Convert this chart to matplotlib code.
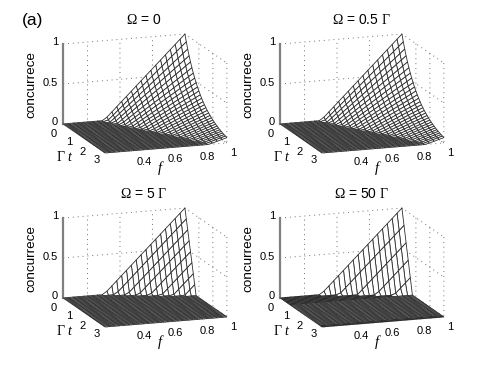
import numpy as np
import matplotlib
matplotlib.use('Agg')
import matplotlib.pyplot as plt
from mpl_toolkits.mplot3d import Axes3D
from mpl_toolkits.mplot3d.art3d import Poly3DCollection

plt.rcParams['font.family'] = ['Liberation Sans']
plt.rcParams['mathtext.fontset'] = 'custom'
plt.rcParams['mathtext.rm'] = 'Liberation Serif'
plt.rcParams['mathtext.it'] = 'Liberation Serif:italic'
plt.rcParams['grid.color'] = '#707070'
plt.rcParams['grid.linestyle'] = (0, (1, 4))
plt.rcParams['grid.linewidth'] = 0.7

W, H = 491, 369

f_vals = [0.25, 0.28, 0.31, 0.34, 0.37, 0.40, 0.43, 0.46, 0.49, 0.52, 0.55, 0.58, 0.61,
          0.64, 0.67, 0.70, 0.73, 0.76, 0.79, 0.82, 0.85, 0.88, 0.91, 0.94, 0.97, 1.00]
t_fine = [0.0, 0.1, 0.2, 0.3, 0.4, 0.5, 0.6, 0.7, 0.8, 0.9, 1.0, 1.1, 1.2, 1.3, 1.4, 1.5,
          1.6, 1.7, 1.8, 1.9, 2.0, 2.1, 2.2, 2.3, 2.4, 2.5, 2.6, 2.7, 2.8, 2.9, 3.0]
# the last panel shows wider t spacing on the raised part
t_coarse = [0.0, 0.15, 0.3, 0.45, 0.6, 0.75, 0.85, 0.95, 1.05, 1.15, 1.25, 1.35, 1.45, 1.55,
            1.65, 1.75, 1.85, 1.95, 2.05, 2.15, 2.25, 2.35, 2.45, 2.55, 2.65, 2.75, 2.85, 3.0]

# concurrence (f = 0.52 ... 1), t from 0 until it reaches zero
slow_lines = [
    [0.04, 0.017],
    [0.10, 0.073, 0.048, 0.024, 0.004],
    [0.16, 0.129, 0.10, 0.074, 0.05, 0.028, 0.008],
    [0.22, 0.185, 0.153, 0.123, 0.096, 0.072, 0.049, 0.029, 0.01],
    [0.28, 0.241, 0.205, 0.172, 0.143, 0.115, 0.09, 0.067, 0.046, 0.027, 0.01],
    [0.34, 0.297, 0.258, 0.221, 0.189, 0.159, 0.131, 0.106, 0.083, 0.062, 0.043, 0.025, 0.009],
    [0.40, 0.353, 0.31, 0.271, 0.235, 0.203, 0.172, 0.145, 0.12, 0.097, 0.076, 0.056, 0.039,
     0.022, 0.008],
    [0.46, 0.409, 0.363, 0.32, 0.281, 0.246, 0.213, 0.184, 0.157, 0.131, 0.109, 0.088, 0.069,
     0.051, 0.036, 0.021, 0.008],
    [0.52, 0.465, 0.415, 0.369, 0.328, 0.29, 0.254, 0.223, 0.193, 0.166, 0.142, 0.12, 0.099,
     0.08, 0.063, 0.047, 0.033, 0.02, 0.008],
    [0.58, 0.521, 0.468, 0.418, 0.374, 0.333, 0.295, 0.261, 0.23, 0.201, 0.175, 0.151, 0.129,
     0.109, 0.091, 0.074, 0.059, 0.045, 0.032, 0.02, 0.009],
    [0.64, 0.578, 0.52, 0.468, 0.42, 0.377, 0.337, 0.30, 0.267, 0.236, 0.208, 0.183, 0.159,
     0.137, 0.118, 0.10, 0.084, 0.069, 0.055, 0.043, 0.031, 0.021, 0.012, 0.003],
    [0.70, 0.633, 0.573, 0.516, 0.466, 0.42, 0.377, 0.339, 0.304, 0.271, 0.242, 0.215, 0.189,
     0.166, 0.146, 0.126, 0.11, 0.094, 0.079, 0.066, 0.054, 0.043, 0.032, 0.023, 0.015, 0.007],
    [0.76, 0.69, 0.625, 0.566, 0.513, 0.464, 0.419, 0.378, 0.34, 0.306, 0.275, 0.246, 0.22,
     0.195, 0.174, 0.153, 0.135, 0.119, 0.103, 0.089, 0.076, 0.064, 0.054, 0.044, 0.035, 0.027,
     0.019, 0.013, 0.006, 0.001],
    [0.82, 0.746, 0.678, 0.615, 0.559, 0.507, 0.46, 0.417, 0.377, 0.34, 0.308, 0.277, 0.25,
     0.224, 0.201, 0.18, 0.161, 0.143, 0.127, 0.112, 0.098, 0.086, 0.075, 0.064, 0.055, 0.046,
     0.038, 0.031, 0.024, 0.019, 0.013],
    [0.88, 0.802, 0.73, 0.665, 0.605, 0.551, 0.501, 0.455, 0.414, 0.375, 0.341, 0.309, 0.28,
     0.252, 0.229, 0.206, 0.186, 0.168, 0.15, 0.135, 0.12, 0.108, 0.096, 0.085, 0.075, 0.066,
     0.058, 0.05, 0.043, 0.038, 0.031],
    [0.94, 0.858, 0.783, 0.714, 0.652, 0.594, 0.542, 0.494, 0.45, 0.41, 0.374, 0.34, 0.31,
     0.281, 0.256, 0.233, 0.212, 0.192, 0.174, 0.158, 0.143, 0.129, 0.117, 0.105, 0.095, 0.085,
     0.077, 0.069, 0.061, 0.056, 0.049],
    [1.00, 0.914, 0.835, 0.763, 0.698, 0.638, 0.583, 0.533, 0.487, 0.445, 0.407, 0.372, 0.34,
     0.31, 0.284, 0.259, 0.237, 0.217, 0.198, 0.181, 0.165, 0.151, 0.138, 0.126, 0.115, 0.105,
     0.096, 0.088, 0.08, 0.074, 0.067],
]

fast_lines = [
    [0.04],
    [0.10],
    [0.16, 0.035],
    [0.22, 0.095],
    [0.28, 0.155, 0.03],
    [0.34, 0.215, 0.09],
    [0.40, 0.275, 0.15, 0.025],
    [0.46, 0.335, 0.21, 0.085],
    [0.52, 0.395, 0.27, 0.145, 0.02],
    [0.58, 0.455, 0.33, 0.205, 0.08],
    [0.64, 0.515, 0.39, 0.265, 0.14, 0.015],
    [0.70, 0.575, 0.45, 0.325, 0.20, 0.075],
    [0.76, 0.635, 0.51, 0.385, 0.26, 0.135, 0.01],
    [0.82, 0.695, 0.57, 0.445, 0.32, 0.195, 0.07],
    [0.88, 0.755, 0.63, 0.505, 0.38, 0.255, 0.13, 0.005],
    [0.94, 0.815, 0.69, 0.565, 0.44, 0.315, 0.19, 0.065],
    [1.00, 0.875, 0.75, 0.625, 0.50, 0.375, 0.25, 0.125],
]

fastest_lines = [
    [0.04],
    [0.10],
    [0.16],
    [0.22, 0.02],
    [0.28, 0.08],
    [0.34, 0.14],
    [0.40, 0.20],
    [0.46, 0.26, 0.06],
    [0.52, 0.32, 0.12],
    [0.58, 0.38, 0.18],
    [0.64, 0.44, 0.24, 0.04],
    [0.70, 0.50, 0.30, 0.10],
    [0.76, 0.56, 0.36, 0.16],
    [0.82, 0.62, 0.42, 0.22, 0.02],
    [0.88, 0.68, 0.48, 0.28, 0.08],
    [0.94, 0.74, 0.54, 0.34, 0.14],
    [1.00, 0.80, 0.60, 0.40, 0.20],
]

titles = [r'$\Omega$ = 0', r'$\Omega$ = 0.5 $\Gamma$', r'$\Omega$ = 5 $\Gamma$', r'$\Omega$ = 50 $\Gamma$']
surfaces = [slow_lines, slow_lines, fast_lines, fastest_lines]
t_grids = [t_fine, t_fine, t_fine, t_coarse]

f_ticks = [0.4, 0.6, 0.8, 1.0]
f_labels = ['0.4', '0.6', '0.8', '1']
t_ticks = [0, 1, 2, 3]
t_labels = ['0', '1', '2', '3']
z_ticks = [0, 0.5, 1]
z_labels = ['0', '0.5', '1']


def table(lines, t_vals):
    c = np.zeros((len(t_vals), len(f_vals)))
    start = len(f_vals) - len(lines)
    for j, line in enumerate(lines):
        c[:len(line), start + j] = line
    return c


def cells(c, t_vals):
    # quads of the mesh, wide flat cells get split so the floor stays dense
    polys = []
    for i in range(len(t_vals) - 1):
        for j in range(len(f_vals) - 1):
            f0, f1 = f_vals[j], f_vals[j + 1]
            t0, t1 = t_vals[i], t_vals[i + 1]
            corners = c[i:i + 2, j:j + 2]
            if t1 - t0 > 0.12 and corners.max() == 0:
                tm = (t0 + t1) / 2
                polys.append([(f0, t0, 0), (f1, t0, 0), (f1, tm, 0), (f0, tm, 0)])
                polys.append([(f0, tm, 0), (f1, tm, 0), (f1, t1, 0), (f0, t1, 0)])
            else:
                polys.append([(f0, t0, c[i, j]), (f1, t0, c[i, j + 1]),
                              (f1, t1, c[i + 1, j + 1]), (f0, t1, c[i + 1, j])])
    return polys


fig = plt.figure(figsize=(W / 100, H / 100), dpi=100)


def put(x, y, s, **kw):
    fig.text(x / W, 1 - y / H, s, **kw)


side = 200
for k in range(4):
    dx = 217 * (k % 2)
    dy = 174 * (k // 2)
    left = 145 - 0.5135 * side + dx
    bottom = H - 93.5 - 0.5135 * side - dy
    ax = fig.add_axes([left / W, bottom / H, side / W, side / H], projection='3d')
    ax.patch.set_alpha(0)
    ax.set_proj_type('ortho')
    ax.view_init(elev=13.8, azim=-109)
    ax.set_box_aspect((1, 1, 0.639), zoom=0.97)

    mesh = Poly3DCollection(cells(table(surfaces[k], t_grids[k]), t_grids[k]), facecolors='white',
                            edgecolors='#2e2e2e', linewidths=0.6)
    ax.add_collection3d(mesh)

    ax.set_xlim(0.25, 1, view_margin=0)
    ax.set_ylim(3, 0, view_margin=0)
    ax.set_zlim(0, 1, view_margin=0)
    ax.set_xticks(f_ticks)
    ax.set_yticks(t_ticks)
    ax.set_zticks(z_ticks)
    ax.set_xticklabels([])
    ax.set_yticklabels([])
    ax.set_zticklabels([])
    for axis in (ax.xaxis, ax.yaxis, ax.zaxis):
        axis.set_pane_color((1, 1, 1, 0))
        axis.pane.set_edgecolor('none')
        axis.line.set_color('none')
        axis._axinfo['tick']['inward_factor'] = 0
        axis._axinfo['tick']['outward_factor'] = 0
    ax.zaxis.line.set_color('#808080')
    ax.zaxis.line.set_linewidth(1.6)

    tick_size = 8
    for (x, y), s in zip([(55, 122), (50, 83), (55, 42)], z_labels):
        put(x + dx, y + dy, s, fontsize=tick_size, ha='center', va='center')
    for (x, y), s in zip([(54, 134), (69, 142), (83, 152), (97, 160)], t_labels):
        put(x + dx, y + dy, s, fontsize=tick_size, ha='center', va='center')
    for (x, y), s in zip([(144, 162), (175, 159), (207, 157), (233, 153)], f_labels):
        put(x + dx, y + dy, s, fontsize=tick_size, ha='center', va='center')
    put(65 + dx, 157 + dy, r'$\Gamma\ t$', fontsize=10, ha='center', va='center')
    put(161 + dx, 168 + dy, r'$f$', fontsize=10.5, ha='center', va='center')
    put(31 + dx, 85 + dy, 'concurrece', fontsize=9.7, rotation=90, ha='center', va='center')
    put(144 + dx, 20 + dy, titles[k], fontsize=10, ha='center', va='center')

put(33, 21, '(a)', fontsize=12.5, ha='center', va='center')

fig.savefig('out.png', dpi=100)
